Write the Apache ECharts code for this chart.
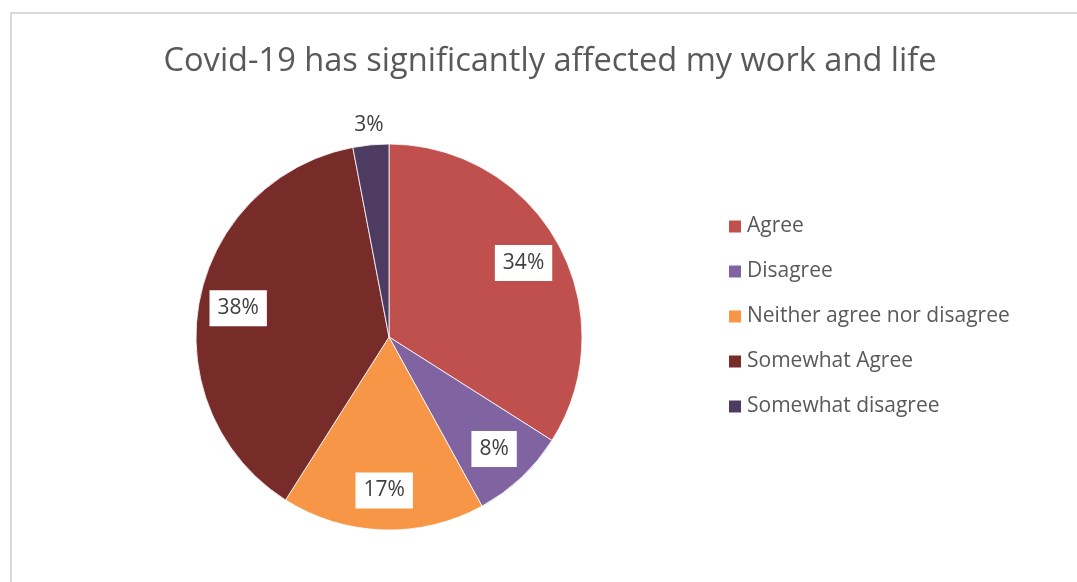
<!DOCTYPE html>
<html>
<head>
<meta charset="utf-8">
<script src="https://cdn.jsdelivr.net/npm/echarts@6/dist/echarts.min.js"></script>
<style>
  html, body { margin: 0; padding: 0; background: #fff; }
  #chart { width: 1077px; height: 582px; }
</style>
</head>
<body>
<div id="chart"></div>
<script>
// Survey responses (share of respondents, %)
const categories = ['Agree', 'Disagree', 'Neither agree nor disagree', 'Somewhat Agree', 'Somewhat disagree'];
const shares = [34, 8, 17, 38, 3];
const sliceColors = ['#C0504D', '#8064A2', '#F79646', '#772C2A', '#4D3B62'];
const titleText = 'Covid-19 has significantly affected my work and life';

const FONT = '"Open Sans", "Noto Sans", sans-serif';
const CX = 389, CY = 337, R = 193;

const pieData = categories.map((name, i) => ({
  name, value: shares[i], itemStyle: { color: sliceColors[i] }
}));

// Small slices get their label outside the pie; the rest sit inside in a white box
const isSmall = v => v < 5;

const labelData = (showFn) => categories.map((name, i) => ({
  name, value: shares[i],
  itemStyle: { color: 'transparent' },
  label: { show: showFn(shares[i]) }
}));

const labelText = {
  color: '#404040',
  fontFamily: FONT,
  fontSize: 21,
  formatter: p => p.value + '%'
};

const chart = echarts.init(document.getElementById('chart'), null, { renderer: 'canvas' });
chart.setOption({
  backgroundColor: '#fff',
  animation: false,
  title: {
    text: titleText,
    left: 545,
    top: 40,
    textAlign: 'center',
    textStyle: { color: '#595959', fontFamily: FONT, fontSize: 32.6, fontWeight: 'normal' }
  },
  legend: {
    orient: 'vertical',
    left: 722,
    top: 211,
    itemWidth: 14,
    itemHeight: 14,
    itemGap: 24,
    icon: 'rect',
    data: categories,
    textStyle: { color: '#595959', fontFamily: FONT, fontSize: 21, lineHeight: 21 }
  },
  graphic: [{
    type: 'rect',
    silent: true,
    shape: { x: 11, y: 13, width: 1200, height: 700 },
    style: { fill: null, stroke: '#d9d9d9', lineWidth: 2 }
  }],
  series: [
    {
      type: 'pie',
      center: [CX, CY],
      radius: [0, R],
      startAngle: 90,
      clockwise: true,
      label: { show: false },
      labelLine: { show: false },
      itemStyle: { borderColor: '#ffffff', borderWidth: 0.8 },
      emphasis: { disabled: true },
      data: pieData
    },
    {
      // inside labels, centred on a ring towards the outer edge
      type: 'pie',
      silent: true,
      center: [CX, CY],
      radius: [R * 0.56, R],
      startAngle: 90,
      clockwise: true,
      legendHoverLink: false,
      label: Object.assign({
        position: 'inside',
        backgroundColor: '#ffffff',
        padding: [8, 8, 7, 8]
      }, labelText),
      labelLine: { show: false },
      emphasis: { disabled: true },
      data: labelData(v => !isSmall(v))
    },
    {
      // outside labels for thin slices
      type: 'pie',
      silent: true,
      center: [CX, CY],
      radius: [R, R * 1.18],
      startAngle: 90,
      clockwise: true,
      legendHoverLink: false,
      label: Object.assign({ position: 'inside' }, labelText),
      labelLine: { show: false },
      emphasis: { disabled: true },
      data: labelData(v => isSmall(v))
    }
  ]
});
</script>
</body>
</html>
